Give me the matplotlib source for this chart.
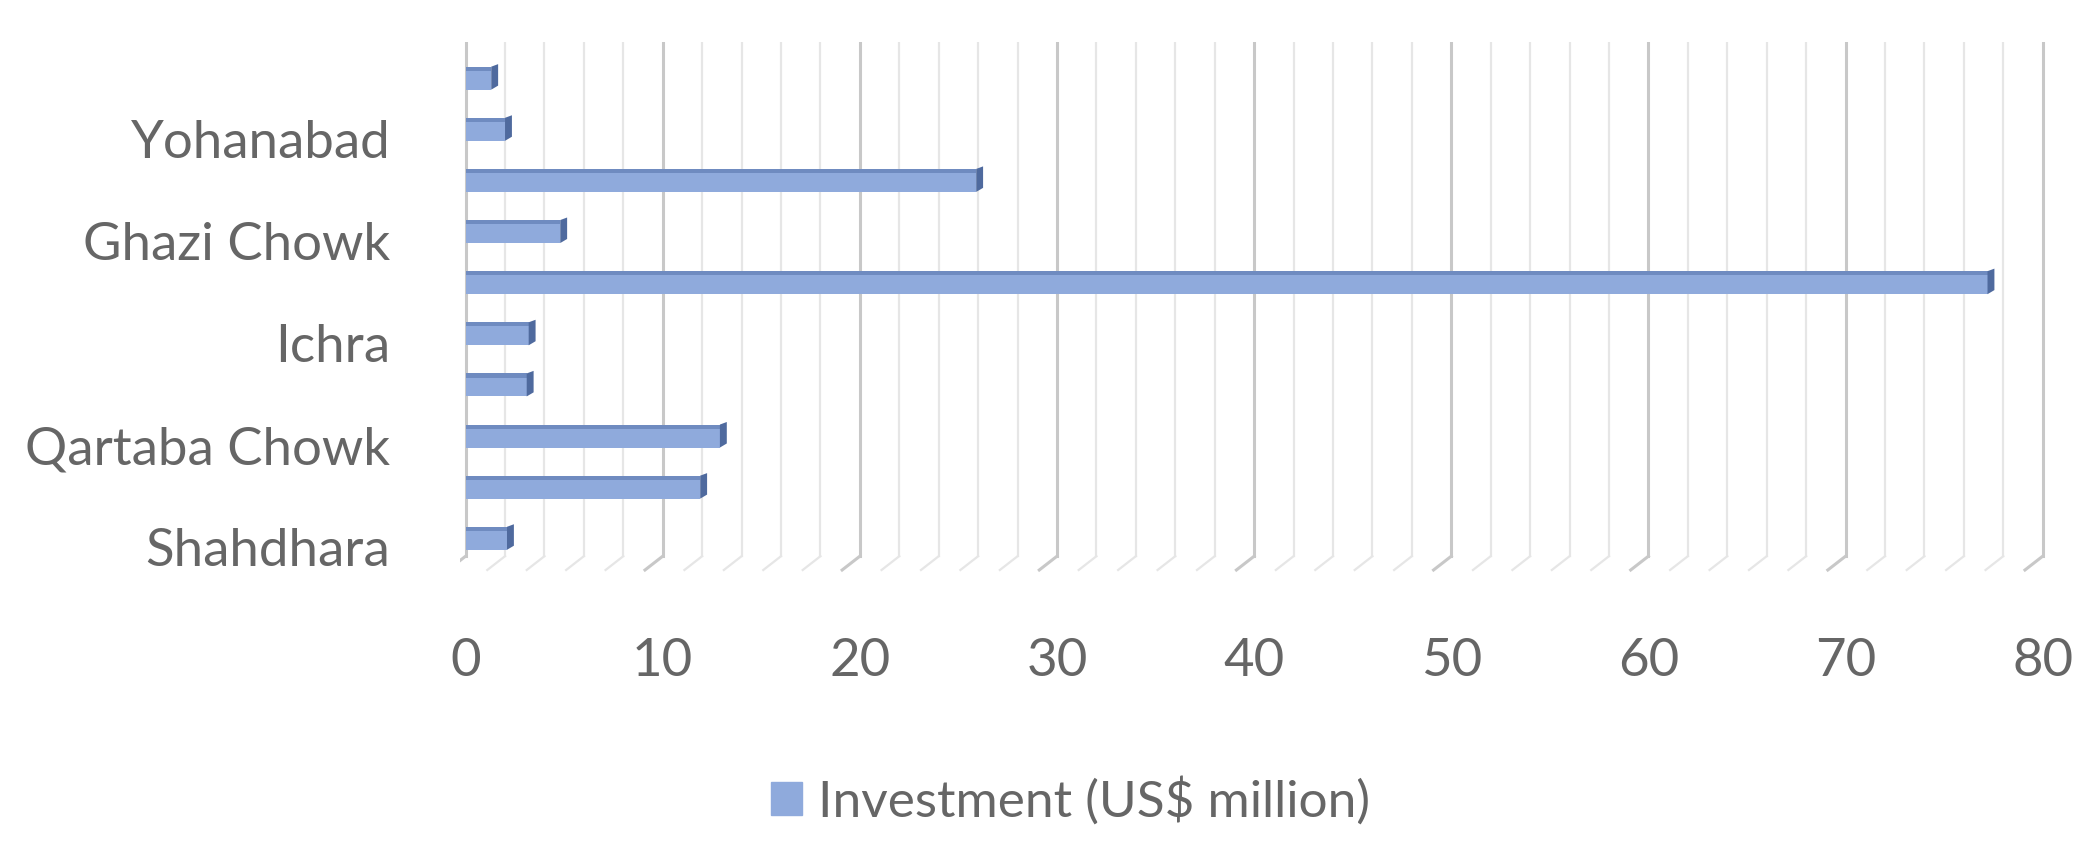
import matplotlib.pyplot as plt
import numpy as np

# bottom to top
categories = ["Shahdhara", "", "Qartaba Chowk", "", "Ichra", "", "Ghazi Chowk", "", "Yohanabad", ""]
values = [2.1, 11.9, 12.9, 3.1, 3.2, 77.2, 4.8, 25.9, 2.0, 1.3]
xticks = [0, 10, 20, 30, 40, 50, 60, 70, 80]

plt.rcParams['font.family'] = ['Lato', 'DejaVu Sans']
fig = plt.figure(figsize=(20.99, 8.48), dpi=100)
ax = fig.add_axes([0.219, 0.32, 0.757, 0.63])

y = np.arange(len(categories))
ax.set_xlim(-0.3, 80.3)
ax.set_ylim(-0.75, len(categories) - 0.3)

# perspective-ish grid
for gx in np.arange(0, 81, 2):
    major = gx % 10 == 0
    col = '#c8c8c8' if major else '#e6e6e6'
    lw = 2.2 if major else 1.6
    ax.plot([gx, gx], [-0.35, len(categories) - 0.3], color=col, lw=lw, zorder=0)
    ax.plot([gx, gx - 0.9], [-0.35, -0.62], color=col, lw=lw, zorder=0)

h = 0.45
ax.barh(y, values, height=h, color='#8FAADC', edgecolor='none', zorder=3)
# darker top edge and side face for 3d look
ax.barh(y + h / 2 - 0.04, values, height=0.08, color='#6F8BC0', edgecolor='none', zorder=4)
for yi, v in zip(y, values):
    ax.fill([v, v + 0.35, v + 0.35, v], [yi - h / 2, yi - h / 2 + 0.08, yi + h / 2 + 0.05, yi + h / 2],
            color='#4F6A9E', zorder=4, lw=0)

ax.set_yticks(y - 0.18)
ax.set_yticklabels(categories)
ax.set_xticks(xticks)
ax.tick_params(axis='both', length=0, labelsize=38, labelcolor='#666666')
ax.tick_params(axis='x', pad=44)
ax.tick_params(axis='y', pad=50)
for s in ax.spines.values():
    s.set_visible(False)

fig.legend(handles=[plt.Rectangle((0, 0), 1, 1, color='#8FAADC')],
           labels=["Investment (US$ million)"], loc='center', bbox_to_anchor=(0.51, 0.055),
           frameon=False, fontsize=37, labelcolor='#666666', handlelength=0.6,
           handleheight=0.6, handletextpad=0.3)

fig.savefig('out.png', dpi=100)
